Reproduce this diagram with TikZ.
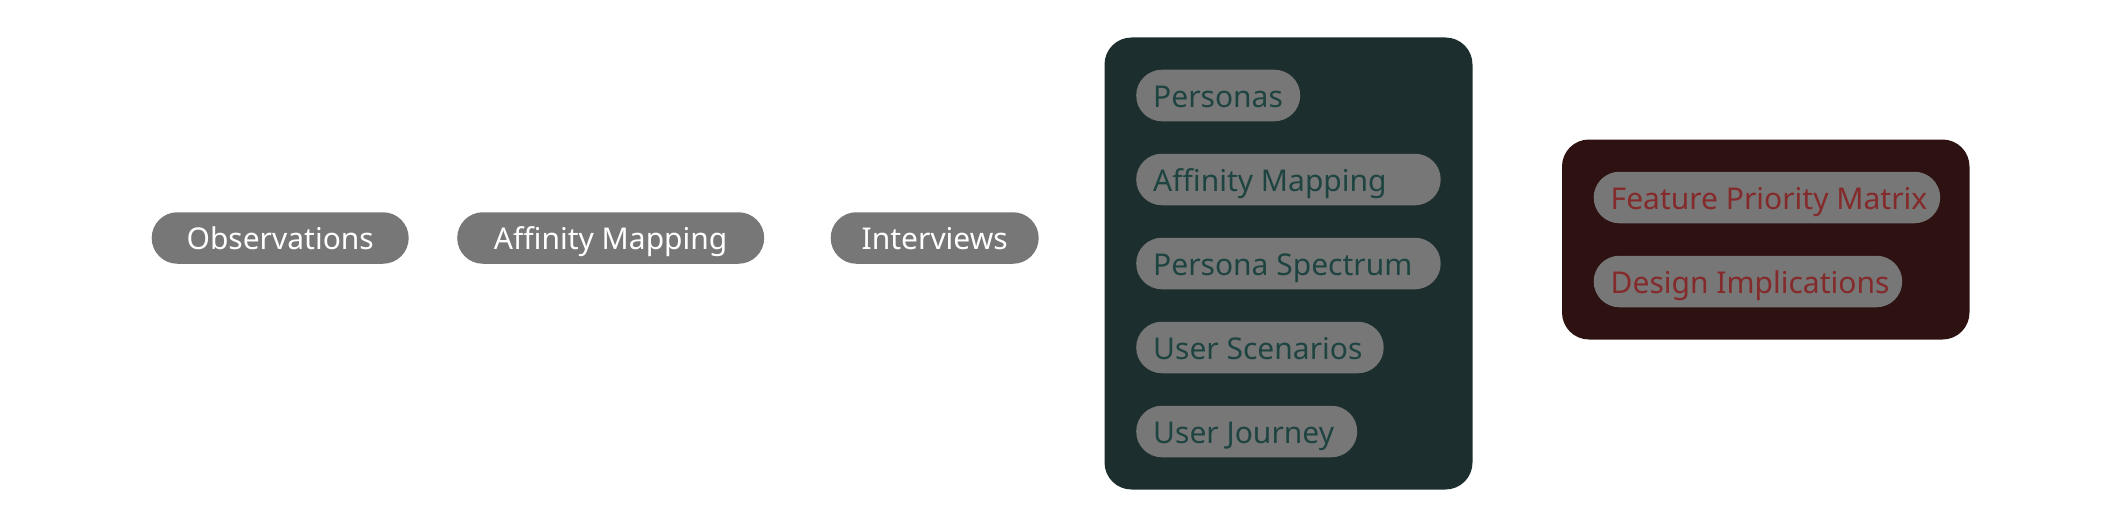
\documentclass[tikz,border=0pt]{standalone}
\usepackage{fontspec}
\setmainfont{Noto Sans}
\definecolor{pillgray}{HTML}{777777}
\definecolor{greenbg}{HTML}{1C2F2E}
\definecolor{greentxt}{HTML}{1E4441}
\definecolor{redbg}{HTML}{2E1211}
\definecolor{redtxt}{HTML}{852A2A}
\newcommand{\lbox}[2]{\makebox[#1][l]{#2}}
\newcommand{\cbox}[2]{\makebox[#1][c]{#2}}
\tikzset{
  pill/.style={fill=pillgray, rounded corners=25.7pt, minimum height=51.5pt,
    inner xsep=17pt, inner ysep=0pt, text height=28pt, text depth=5pt,
    font=\fontsize{30}{34}\selectfont, anchor=west},
  freepill/.style={pill, text=white},
  greenpill/.style={pill, text=greentxt},
  redpill/.style={pill, text=redtxt},
  groupbox/.style={rounded corners=27pt}
}
\begin{document}
\begin{tikzpicture}[x=1pt,y=-1pt]
\useasboundingbox (0,0) rectangle (2121,527);
% free pills
\node[freepill] (obs) at (151.5,238) {\cbox{223pt}{Observations}};
\node[freepill] (aff) at (457,238) {\cbox{273pt}{Affinity Mapping}};
\node[freepill] (int) at (830.5,238) {\cbox{174pt}{Interviews}};
% green group
\fill[greenbg, groupbox] (1104.5,37.5) rectangle (1472.5,489.5);
\node[greenpill] (per) at (1136,95.5) {\lbox{130pt}{Personas}};
\node[greenpill] (aff2) at (1136,179.5) {\lbox{270.5pt}{Affinity Mapping}};
\node[greenpill] (spec) at (1136,263.5) {\lbox{270.5pt}{Persona Spectrum}};
\node[greenpill] (scen) at (1136,347.5) {\lbox{213.5pt}{User Scenarios}};
\node[greenpill] (jour) at (1136,431.5) {\lbox{187pt}{User Journey}};
% red group
\fill[redbg, groupbox] (1562,139.5) rectangle (1969.5,339.5);
\node[redpill] (fpm) at (1593.5,197.5) {\lbox{312.5pt}{Feature Priority Matrix}};
\node[redpill] (des) at (1593.5,281.5) {\lbox{274.5pt}{Design Implications}};
\end{tikzpicture}
\end{document}
